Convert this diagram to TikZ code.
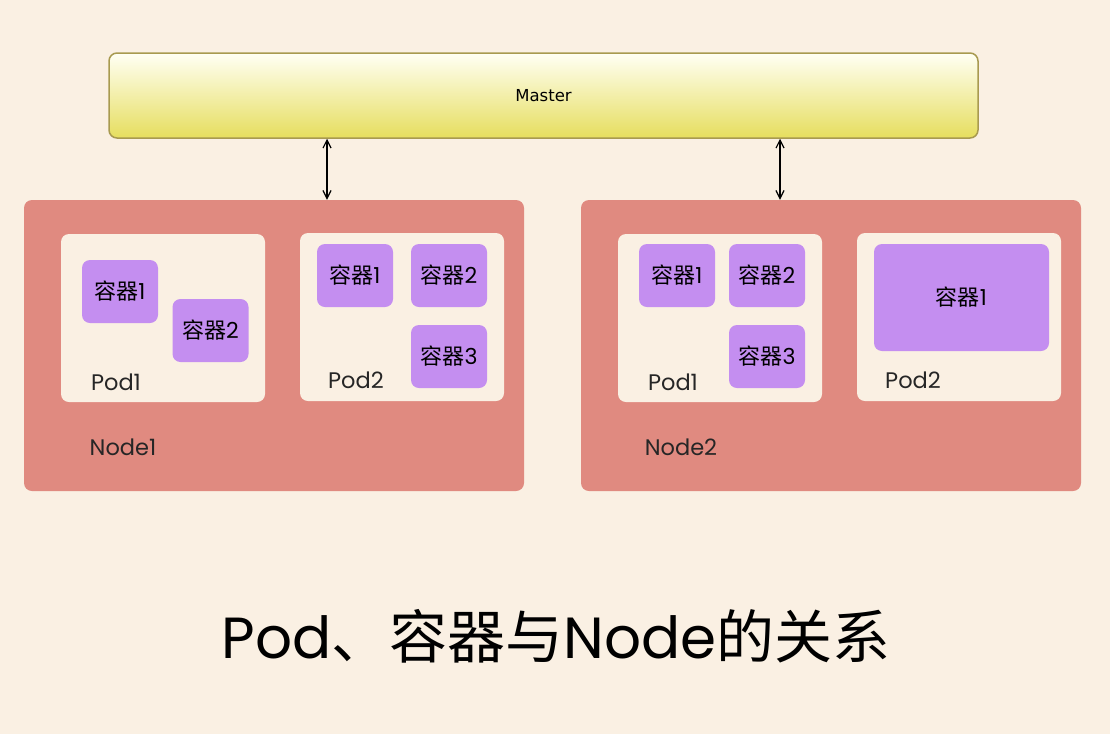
\documentclass[tikz,border=0pt]{standalone}
\usepackage{fontspec}
\setmainfont{Poppins}
\newfontfamily\cjk{Noto Sans CJK SC}
\newfontfamily\mfont{DejaVu Sans}
\usetikzlibrary{arrows.meta}
\definecolor{bg}{HTML}{FAF0E3}
\definecolor{nodefill}{HTML}{E08A80}
\definecolor{ctfill}{HTML}{C48EF0}
\definecolor{mborder}{HTML}{A89A50}
\definecolor{mtop}{HTML}{FFFFF4}
\definecolor{mbot}{HTML}{E6DE5E}
\tikzset{
  masterbox/.style={draw=mborder, line width=1.5pt, rounded corners=8pt, top color=mtop, bottom color=mbot, inner sep=0pt},
  nodebox/.style={fill=nodefill, rounded corners=8pt, minimum width=500pt, minimum height=291pt, inner sep=0pt},
  podbox/.style={fill=bg, rounded corners=8pt, minimum width=204pt, minimum height=168pt, inner sep=0pt},
  ctbox/.style={fill=ctfill, rounded corners=8pt, minimum width=76pt, minimum height=63pt, inner sep=0pt, font=\fontsize{22}{26}\selectfont},
  lbl/.style={inner sep=0pt, text=black!85, font=\fontsize{22.5}{26}\selectfont},
  link/.style={<->, >={Straight Barb[length=8pt,width=8pt]}, line width=1.2pt}
}
\newcommand{\rqq}{{\cjk 容器}}
\begin{document}
\begin{tikzpicture}[x=1pt,y=-1pt]
\fill[bg] (0,0) rectangle (1110,734);
\useasboundingbox (0,0) rectangle (1110,734);
% master
\node[masterbox, minimum width=869pt, minimum height=85pt] (master) at (543.5,95.5) {\mfont\fontsize{16.5}{20}\selectfont Master};
% nodes
\node[nodebox] (node1) at (274,345.5) {};
\node[nodebox] (node2) at (831,345.5) {};
% pods
\node[podbox] (n1p1) at (163,318) {};
\node[podbox] (n1p2) at (402,317) {};
\node[podbox] (n2p1) at (720,318) {};
\node[podbox] (n2p2) at (959,317) {};
% containers node1
\node[ctbox] (n1p1c1) at (120,291.5) {\rqq1};
\node[ctbox] (n1p1c2) at (210.5,330.5) {\rqq2};
\node[ctbox] (n1p2c1) at (355,275.5) {\rqq1};
\node[ctbox] (n1p2c2) at (449,275.5) {\rqq2};
\node[ctbox] (n1p2c3) at (449,356.5) {\rqq3};
% containers node2
\node[ctbox] (n2p1c1) at (677,275.5) {\rqq1};
\node[ctbox] (n2p1c2) at (767,275.5) {\rqq2};
\node[ctbox] (n2p1c3) at (767,356.5) {\rqq3};
\node[ctbox, minimum width=175pt, minimum height=107pt] (n2p2c1) at (961.5,297.5) {\rqq1};
% labels
\node[lbl] (l1) at (116,382) {Pod1};
\node[lbl] (l2) at (356,380) {Pod2};
\node[lbl] (l3) at (123,447) {Node1};
\node[lbl] (l4) at (673,382) {Pod1};
\node[lbl] (l5) at (913,380) {Pod2};
\node[lbl] (l6) at (681,447) {Node2};
% arrows
\coordinate (a1) at (327,0);
\coordinate (a2) at (780,0);
\draw[link] (master.south -| a1) -- (node1.north -| a1);
\draw[link] (master.south -| a2) -- (node2.north -| a2);
% title
\node[inner sep=0pt, font=\fontsize{58}{64}\selectfont] (title) at (556,636) {Pod{\cjk 、容器与}Node{\cjk 的关系}};
\end{tikzpicture}
\end{document}
